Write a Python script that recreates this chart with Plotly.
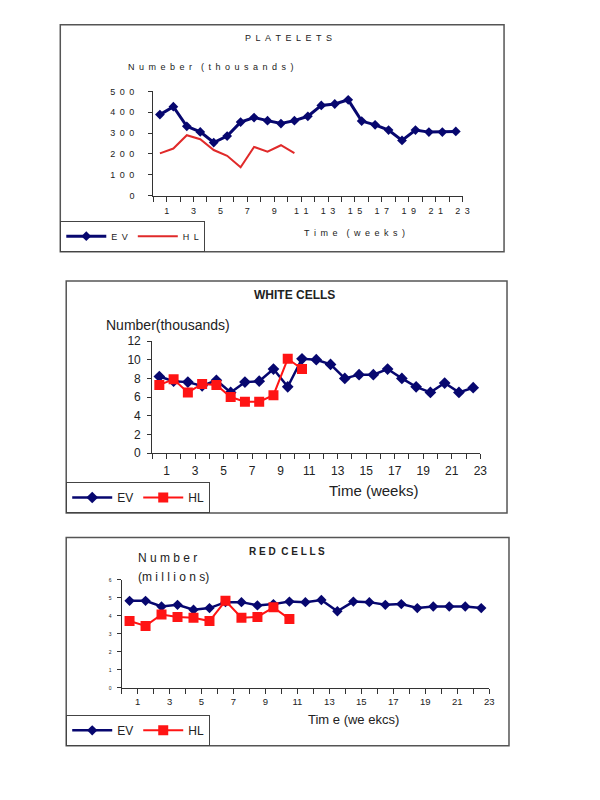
import plotly.graph_objects as go

W, H = 600, 800

# ---------------- data ----------------
weeks = list(range(1, 24))
weeks_hl = list(range(1, 12))

plt_ev = [389, 427, 333, 306, 255, 286, 353, 375, 360, 346, 360, 381, 433, 440, 460,
          358, 340, 315, 265, 315, 305, 305, 308]
plt_hl = [203, 226, 290, 271, 219, 191, 136, 234, 211, 242, 204]

wbc_ev = [8.2, 7.7, 7.6, 7.2, 7.8, 6.5, 7.6, 7.7, 9.0, 7.1, 10.1, 10.0, 9.5, 8.0, 8.4,
          8.4, 9.0, 8.0, 7.1, 6.5, 7.5, 6.5, 7.0]
wbc_hl = [7.3, 7.9, 6.5, 7.4, 7.3, 6.0, 5.5, 5.5, 6.2, 10.1, 9.0]

rbc_ev = [4.83, 4.83, 4.52, 4.61, 4.34, 4.43, 4.76, 4.76, 4.58, 4.65, 4.79, 4.76, 4.88,
          4.25, 4.79, 4.76, 4.61, 4.65, 4.43, 4.52, 4.52, 4.52, 4.43]
rbc_hl = [3.71, 3.44, 4.07, 3.94, 3.89, 3.71, 4.83, 3.89, 3.94, 4.47, 3.83]

x_tick_labels = ["1", "3", "5", "7", "9", "11", "13", "15", "17", "19", "21", "23"]
plt_y_ticks = [0, 100, 200, 300, 400, 500]
wbc_y_ticks = [0, 2, 4, 6, 8, 10, 12]
rbc_y_ticks = [0, 1, 2, 3, 4, 5, 6]

series_names = ["EV", "HL"]
titles = ["PLATELETS", "WHITE CELLS", "RED CELLS"]

NAVY = "#07076f"
RED1 = "#e02a2a"
RED = "#ff1414"
AX = "#333333"
FONT = "Arial, Liberation Sans, sans-serif"
SP = "\u2002"


def spaced(s, sep=SP):
    return sep.join(list(s.replace(" ", "")))


def px(x):
    return x / W


def py(y):
    return 1 - y / H


# tick positions at category boundaries; labels on odd boundaries
bounds = [b + 0.5 for b in range(0, 24)]


def tick_text(fn=lambda s: s):
    out = []
    for b in bounds:
        k = int(b - 0.5)
        lab = str(k)
        out.append(fn(lab) if lab in x_tick_labels else "")
    return out


fig = go.Figure()

# Panel 1: platelets
fig.add_trace(go.Scatter(x=weeks, y=plt_ev, name=spaced(series_names[0]), mode="lines+markers",
                         line=dict(color=NAVY, width=3), marker=dict(symbol="diamond", size=7.5, color=NAVY),
                         xaxis="x", yaxis="y", legend="legend"))
fig.add_trace(go.Scatter(x=weeks_hl, y=plt_hl, name=spaced(series_names[1]), mode="lines",
                         line=dict(color=RED1, width=2), xaxis="x", yaxis="y", legend="legend"))

# Panel 2: white cells
fig.add_trace(go.Scatter(x=weeks, y=wbc_ev, name=series_names[0], mode="lines+markers",
                         line=dict(color=NAVY, width=2.5), marker=dict(symbol="diamond", size=9, color=NAVY),
                         xaxis="x2", yaxis="y2", legend="legend2"))
fig.add_trace(go.Scatter(x=weeks_hl, y=wbc_hl, name=series_names[1], mode="lines+markers",
                         line=dict(color=RED, width=2), marker=dict(symbol="square", size=10, color=RED),
                         xaxis="x2", yaxis="y2", legend="legend2"))

# Panel 3: red cells
fig.add_trace(go.Scatter(x=weeks, y=rbc_ev, name=series_names[0], mode="lines+markers",
                         line=dict(color=NAVY, width=2.5), marker=dict(symbol="diamond", size=8, color=NAVY),
                         xaxis="x3", yaxis="y3", legend="legend3"))
fig.add_trace(go.Scatter(x=weeks_hl, y=rbc_hl, name=series_names[1], mode="lines+markers",
                         line=dict(color=RED, width=2), marker=dict(symbol="square", size=10, color=RED),
                         xaxis="x3", yaxis="y3", legend="legend3"))

common_x = dict(range=[0.5, 23.5], tickmode="array", tickvals=bounds, showgrid=False, zeroline=False,
                showline=True, linecolor=AX, linewidth=1, ticks="outside", tickcolor=AX, ticklen=5,
                tickangle=0, fixedrange=True)
common_y = dict(showgrid=False, zeroline=False, showline=True, linecolor=AX, linewidth=1,
                ticks="outside", tickcolor=AX, ticklen=4, fixedrange=True)

fig.update_layout(
    width=W, height=H, margin=dict(l=0, r=0, t=0, b=0),
    paper_bgcolor="white", plot_bgcolor="white",
    font=dict(family=FONT, color="#222222"),
    xaxis=dict(common_x, domain=[px(155), px(468)], anchor="y", ticktext=tick_text(spaced),
               tickfont=dict(size=9), ticklabelstandoff=2),
    yaxis=dict(common_y, domain=[py(192), py(86)], anchor="x", range=[0, 500], tickvals=plt_y_ticks,
               ticktext=[spaced(str(v)) for v in plt_y_ticks], tickfont=dict(size=9), ticklabelstandoff=12),
    xaxis2=dict(common_x, domain=[px(154), px(486)], anchor="y2", ticktext=tick_text(),
                tickfont=dict(size=12), ticklabelstandoff=2),
    yaxis2=dict(common_y, domain=[py(454), py(340)], anchor="x2", range=[0, 12], tickvals=wbc_y_ticks,
                ticktext=[str(v) for v in wbc_y_ticks], tickfont=dict(size=12), ticklabelstandoff=4),
    xaxis3=dict(common_x, domain=[px(123), px(495)], anchor="y3", ticktext=tick_text(),
                tickfont=dict(size=9.5), ticklabelstandoff=0),
    yaxis3=dict(common_y, domain=[py(693), py(583)], anchor="x3", range=[0, 6], tickvals=rbc_y_ticks,
                ticktext=[str(v) for v in rbc_y_ticks], tickfont=dict(size=5), ticklabelstandoff=4),
)

leg_common = dict(orientation="h", xanchor="left", yanchor="bottom", bgcolor="white",
                  bordercolor="#444444", borderwidth=1, itemwidth=40, tracegroupgap=0,
                  itemclick=False, itemdoubleclick=False)
fig.update_layout(
    legend=dict(leg_common, x=px(61), y=py(249), font=dict(size=9, family=FONT)),
    legend2=dict(leg_common, x=px(67), y=py(515), font=dict(size=12, family=FONT)),
    legend3=dict(leg_common, x=px(67), y=py(752), font=dict(size=12, family=FONT)),
)

# panel borders
for (x0, y0, x1, y1) in [(61, 18, 510, 249), (67, 279, 513, 515), (67, 540, 515, 752)]:
    fig.add_shape(type="rect", xref="paper", yref="paper", x0=px(x0), x1=px(x1), y0=py(y1), y1=py(y0),
                  line=dict(color="#555555", width=1.5), fillcolor="rgba(0,0,0,0)", layer="below")


def ann(text, x, y, size, xanchor="center", bold=False):
    fig.add_annotation(text=f"<b>{text}</b>" if bold else text, x=px(x), y=py(y), xref="paper", yref="paper",
                       xanchor=xanchor, yanchor="middle", showarrow=False,
                       font=dict(size=size, family=FONT, color="#222222"))


# panel 1 texts
ann(spaced(titles[0]), 292, 32, 9)
ann(SP.join(list("Numeber")) + SP + SP + SP.join(list("(thousands)")), 127, 61, 9, xanchor="left")
ann(SP.join(list("Time")) + SP + SP + SP.join(list("(weeks)")), 359, 230, 9)

# panel 2 texts
ann(titles[1], 298, 293, 12, bold=True)
ann("Number(thousands)", 105, 324, 14, xanchor="left")
ann("Time (weeks)", 378, 492, 15)

# panel 3 texts
ann(" ".join(list("RED")) + "  " + " ".join(list("CELLS")), 290, 554, 10, bold=True)
ann(" ".join(list("Number")), 138, 561, 12, xanchor="left")
ann("(m i l l i o n s)", 138, 580, 12, xanchor="left")
ann("Tim e (we ekcs)", 358, 725, 13)

fig.write_html("out.html", config={"displayModeBar": False},
               post_script="document.body.style.margin='0';document.body.style.overflow='hidden';")
